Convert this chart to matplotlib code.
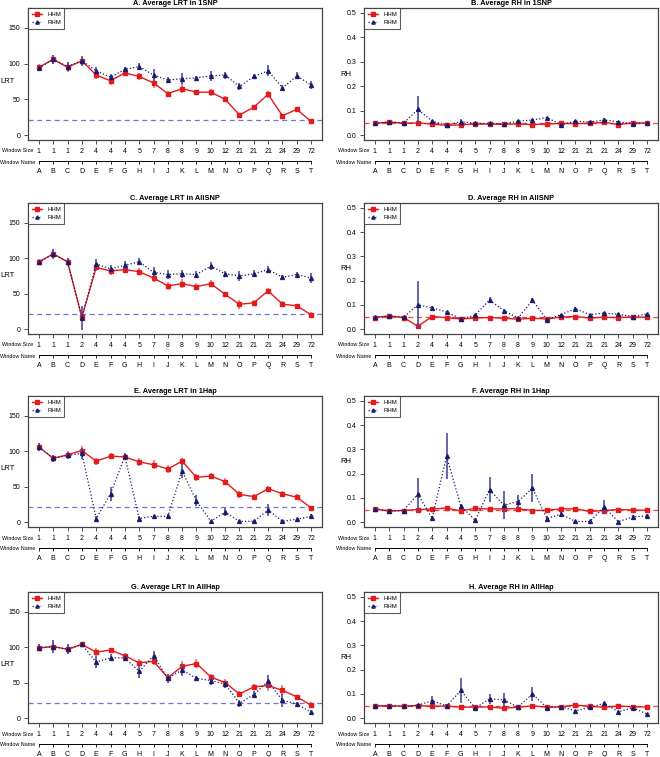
import matplotlib.pyplot as plt
import matplotlib.transforms as mtransforms
from matplotlib.lines import Line2D

plt.rcParams['font.family'] = ['Liberation Sans', 'DejaVu Sans']

# window names and sizes (shared x axis)
names = list('ABCDEFGHIJKLMNOPQRST')
sizes = [1, 1, 1, 2, 4, 4, 4, 5, 7, 8, 8, 9, 10, 12, 21, 21, 21, 24, 29, 72]

# A. LRT 1SNP
a_hhm = [95, 106, 95, 104, 84, 76, 87, 82, 73, 58, 65, 60, 60, 50, 28, 39, 57, 27, 36, 19]
a_hhm_err = [4, 6, 6, 6, 5, 6, 4, 5, 7, 4, 6, 3, 5, 4, 3, 3, 5, 3, 3, 3]
a_rhm = [94, 106, 96, 104, 90, 81, 92, 96, 84, 77, 79, 80, 83, 84, 68, 82, 90, 66, 83, 70]
a_rhm_err = [4, 6, 6, 7, 5, 5, 3, 5, 8, 4, 8, 3, 7, 5, 5, 4, 8, 4, 5, 5]

# B. RH 1SNP
b_hhm = [0.048, 0.053, 0.049, 0.050, 0.045, 0.040, 0.042, 0.045, 0.045, 0.044,
         0.046, 0.043, 0.045, 0.048, 0.047, 0.048, 0.052, 0.043, 0.050, 0.049]
b_hhm_err = [0.003] * 20
b_rhm = [0.049, 0.054, 0.049, 0.105, 0.057, 0.040, 0.055, 0.048, 0.048, 0.046,
         0.057, 0.062, 0.072, 0.042, 0.057, 0.053, 0.062, 0.054, 0.047, 0.050]
b_rhm_err = [0.003, 0.003, 0.003, 0.055, 0.004, 0.003, 0.012, 0.003, 0.003, 0.003,
             0.004, 0.003, 0.004, 0.003, 0.004, 0.004, 0.008, 0.004, 0.003, 0.004]

# C. LRT AllSNP
c_hhm = [95, 106, 95, 17, 87, 82, 84, 81, 72, 61, 64, 60, 64, 49, 35, 37, 54, 35, 33, 20]
c_hhm_err = [4, 6, 5, 6, 5, 5, 5, 5, 5, 6, 6, 5, 5, 3, 6, 4, 4, 4, 3, 4]
c_rhm = [94, 106, 95, 16, 92, 85, 90, 95, 80, 77, 78, 77, 89, 78, 75, 78, 84, 73, 77, 72]
c_rhm_err = [4, 7, 6, 17, 7, 5, 6, 5, 7, 6, 6, 5, 6, 4, 7, 5, 5, 4, 3, 7]

# D. RH AllSNP
d_hhm = [0.048, 0.054, 0.048, 0.012, 0.052, 0.047, 0.042, 0.046, 0.048, 0.045,
         0.041, 0.045, 0.042, 0.050, 0.052, 0.046, 0.049, 0.048, 0.050, 0.049]
d_hhm_err = [0.003, 0.003, 0.003, 0.008] + [0.003] * 16
d_rhm = [0.049, 0.054, 0.049, 0.100, 0.088, 0.071, 0.042, 0.058, 0.120, 0.076,
         0.046, 0.120, 0.039, 0.060, 0.084, 0.060, 0.066, 0.061, 0.052, 0.062]
d_rhm_err = [0.003, 0.003, 0.003, 0.100, 0.008, 0.005, 0.003, 0.004, 0.014, 0.007,
             0.003, 0.010, 0.003, 0.004, 0.008, 0.004, 0.006, 0.004, 0.003, 0.005]

# E. LRT 1Hap
e_hhm = [106, 90, 95, 101, 86, 93, 92, 85, 81, 75, 86, 63, 65, 57, 39, 36, 47, 40, 35, 20]
e_hhm_err = [5, 5, 5, 6, 5, 4, 4, 6, 6, 6, 5, 5, 4, 5, 5, 4, 4, 4, 4, 3]
e_rhm = [106, 90, 94, 97, 5, 40, 93, 5, 8, 8, 72, 30, 1, 14, 1, 1, 17, 1, 4, 8]
e_rhm_err = [5, 5, 5, 8, 4, 10, 4, 3, 2, 3, 10, 8, 1, 6, 1, 1, 8, 1, 1, 4]

# F. RH 1Hap
f_hhm = [0.054, 0.046, 0.048, 0.052, 0.054, 0.058, 0.046, 0.057, 0.054, 0.055,
         0.055, 0.048, 0.049, 0.055, 0.055, 0.044, 0.048, 0.052, 0.050, 0.049]
f_hhm_err = [0.003] * 20
f_rhm = [0.055, 0.046, 0.048, 0.115, 0.016, 0.272, 0.066, 0.008, 0.134, 0.070,
         0.085, 0.140, 0.015, 0.033, 0.003, 0.003, 0.062, 0.002, 0.022, 0.025]
f_rhm_err = [0.003, 0.003, 0.003, 0.067, 0.010, 0.095, 0.005, 0.003, 0.052, 0.058,
             0.025, 0.057, 0.010, 0.008, 0.003, 0.003, 0.030, 0.003, 0.006, 0.010]

# G. LRT AllHap
g_hhm = [99, 101, 97, 104, 93, 96, 88, 78, 80, 57, 73, 77, 58, 50, 34, 44, 46, 39, 30, 18]
g_hhm_err = [5, 6, 6, 3, 6, 3, 4, 5, 5, 5, 7, 6, 4, 5, 4, 4, 8, 7, 3, 4]
g_rhm = [99, 101, 97, 104, 79, 85, 85, 66, 88, 56, 68, 56, 53, 48, 21, 33, 52, 25, 20, 8]
g_rhm_err = [5, 9, 7, 4, 9, 5, 4, 9, 7, 6, 8, 4, 6, 5, 5, 5, 9, 9, 3, 3]

# H. RH AllHap
h_hhm = [0.050, 0.051, 0.049, 0.052, 0.049, 0.050, 0.045, 0.046, 0.046, 0.041,
         0.045, 0.051, 0.045, 0.047, 0.054, 0.049, 0.045, 0.050, 0.047, 0.046]
h_hhm_err = [0.003] * 20
h_rhm = [0.051, 0.052, 0.049, 0.053, 0.072, 0.050, 0.114, 0.041, 0.080, 0.075,
         0.046, 0.100, 0.043, 0.047, 0.030, 0.044, 0.061, 0.026, 0.043, 0.017]
h_rhm_err = [0.003, 0.003, 0.003, 0.004, 0.020, 0.004, 0.050, 0.004, 0.020, 0.030,
             0.003, 0.028, 0.003, 0.004, 0.004, 0.006, 0.006, 0.003, 0.006, 0.004]

lrt_cut = 21
rh_cut = 0.05

panels = [
    ('A. Average LRT in 1SNP', 'LRT', a_hhm, a_hhm_err, a_rhm, a_rhm_err),
    ('B. Average RH in 1SNP', 'RH', b_hhm, b_hhm_err, b_rhm, b_rhm_err),
    ('C. Average LRT in AllSNP', 'LRT', c_hhm, c_hhm_err, c_rhm, c_rhm_err),
    ('D. Average RH in AllSNP', 'RH', d_hhm, d_hhm_err, d_rhm, d_rhm_err),
    ('E. Average LRT in 1Hap', 'LRT', e_hhm, e_hhm_err, e_rhm, e_rhm_err),
    ('F. Average RH in 1Hap', 'RH', f_hhm, f_hhm_err, f_rhm, f_rhm_err),
    ('G. Average LRT in AllHap', 'LRT', g_hhm, g_hhm_err, g_rhm, g_rhm_err),
    ('H. Average RH in AllHap', 'RH', h_hhm, h_hhm_err, h_rhm, h_rhm_err),
]

W, H = 660, 757
fig = plt.figure(figsize=(W / 100, H / 100), dpi=100)

col_left = [28, 364]
row_box = [(8, 140), (203, 334), (396, 527), (592, 723)]
box_w = 294

red = '#e41a1c'
navy = '#1b1b6b'
x = list(range(1, 21))
fs = 5.0
fs_small = 3.9

for i, (title, ylab, hhm, hhm_err, rhm, rhm_err) in enumerate(panels):
    r, c = divmod(i, 2)
    top, bot = row_box[r]
    ax = fig.add_axes([col_left[c] / W, 1 - bot / H, box_w / W, (bot - top) / H])

    if ylab == 'LRT':
        ax.axhline(lrt_cut, color='#7373d9', ls=(0, (4, 3)), lw=0.9, zorder=1)
    else:
        ax.axhline(rh_cut, color='#ee4444', ls=(0, (4, 3)), lw=0.9, zorder=1)

    ax.errorbar(x, hhm, yerr=hhm_err, color=red, ecolor='#f07070', elinewidth=1.2,
                marker='s', ms=3.0, lw=1.0, capsize=0, zorder=3)
    ax.errorbar(x, rhm, yerr=rhm_err, color=navy, ecolor='#4b4b9e', elinewidth=1.2,
                marker='^', ms=2.8, lw=0.9, ls=':', capsize=0, zorder=4)

    ax.set_xlim(0.24, 20.76)
    if ylab == 'LRT':
        ax.set_ylim(-7, 178)
        ax.set_yticks([0, 50, 100, 150])
        ax.set_yticklabels(['0', '50', '100', '150'])
        ymid = 75
    else:
        ax.set_ylim(-0.02, 0.52)
        ax.set_yticks([0.0, 0.1, 0.2, 0.3, 0.4, 0.5])
        ax.set_yticklabels(['0.0', '0.1', '0.2', '0.3', '0.4', '0.5'])
        ymid = 0.25

    ax.set_xticks(x)
    ax.set_xticklabels([str(s) for s in sizes])
    ax.tick_params(axis='both', labelsize=fs, length=3, width=0.6, pad=2.5, color='#333333')
    for sp in ax.spines.values():
        sp.set_linewidth(0.9)
        sp.set_color('#444444')

    # second axis with window names
    ax2 = ax.twiny()
    ax2.set_xlim(ax.get_xlim())
    ax2.xaxis.set_ticks_position('bottom')
    ax2.xaxis.set_label_position('bottom')
    ax2.spines['bottom'].set_position(('outward', 15))
    ax2.spines['bottom'].set_bounds(1, 20)
    ax2.spines['bottom'].set_linewidth(0.7)
    for s in ['top', 'left', 'right']:
        ax2.spines[s].set_visible(False)
    ax2.set_xticks(x)
    ax2.set_xticklabels(names)
    ax2.tick_params(axis='x', labelsize=fs, length=2.5, width=0.6, pad=3)

    ax.set_title(title, fontsize=5.3, fontweight='bold', pad=2)

    off1 = mtransforms.offset_copy(ax.transAxes, fig=fig, x=5, y=-11, units='dots')
    ax.text(0, 0, 'Window Size', transform=off1, ha='right', va='center', fontsize=fs_small)
    off2 = mtransforms.offset_copy(ax.transAxes, fig=fig, x=7, y=-22, units='dots')
    ax.text(0, 0, 'Window Name', transform=off2, ha='right', va='center', fontsize=fs_small)

    tr = mtransforms.blended_transform_factory(ax.transAxes, ax.transData)
    off3 = mtransforms.offset_copy(tr, fig=fig, x=-13, y=0, units='dots')
    ax.text(0, ymid, ylab, transform=off3, ha='right', va='center', fontsize=fs * 1.1)

    handles = [Line2D([], [], color=red, marker='s', ms=2.5, lw=1.0),
               Line2D([], [], color=navy, marker='^', ms=2.3, lw=0.9, ls=':')]
    leg = ax.legend(handles, ['HHM', 'RHM'], loc='upper left', fontsize=4.3,
                    borderaxespad=0, frameon=True, fancybox=False, edgecolor='#333333',
                    handlelength=1.8, borderpad=0.6, labelspacing=0.55, handletextpad=0.8)
    leg.get_frame().set_linewidth(0.8)

fig.savefig('out.png', dpi=100)
